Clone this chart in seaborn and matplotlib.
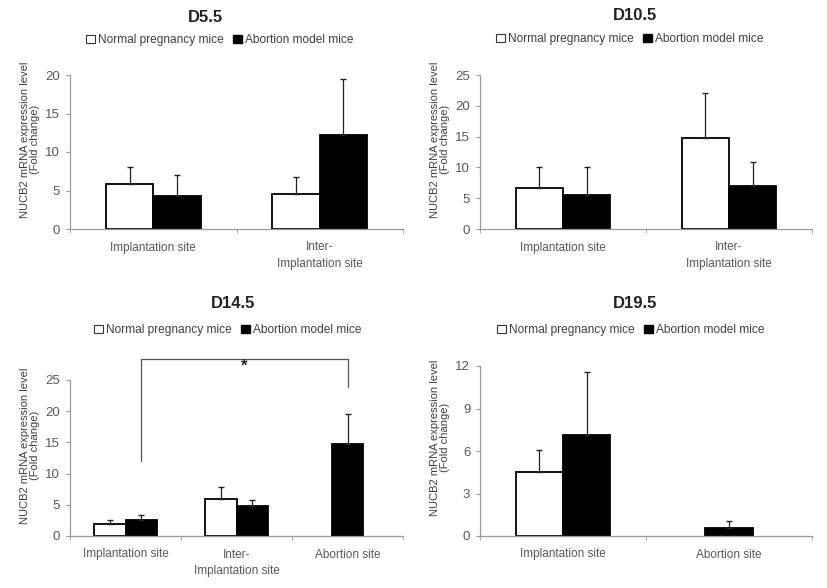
import numpy as np
import pandas as pd
import matplotlib
matplotlib.use('Agg')
import matplotlib.pyplot as plt
import seaborn as sns
from matplotlib.patches import Patch

sns.set_style('ticks')
plt.rcParams['font.family'] = ['Liberation Sans', 'DejaVu Sans']

groups = ['Normal pregnancy mice', 'Abortion model mice']

# D5.5
d5_sites = ['Implantation site', 'Inter-\nImplantation site']
d5_normal = [5.9, 4.5]
d5_normal_err = [2.2, 2.2]
d5_abortion = [4.3, 12.2]
d5_abortion_err = [2.7, 7.3]

# D10.5
d10_sites = ['Implantation site', 'Inter-\nImplantation site']
d10_normal = [6.7, 14.8]
d10_normal_err = [3.3, 7.2]
d10_abortion = [5.6, 7.0]
d10_abortion_err = [4.4, 3.8]

# D14.5
d14_sites = ['Implantation site', 'Inter-\nImplantation site', 'Abortion site']
d14_normal = [1.9, 6.0, np.nan]
d14_normal_err = [0.7, 1.8, np.nan]
d14_abortion = [2.5, 4.8, 14.8]
d14_abortion_err = [0.9, 1.0, 4.8]

# D19.5
d19_sites = ['Implantation site', 'Abortion site']
d19_normal = [4.5, np.nan]
d19_normal_err = [1.6, np.nan]
d19_abortion = [7.1, 0.6]
d19_abortion_err = [4.5, 0.45]

W, H = 827, 588
fig = plt.figure(figsize=(W / 100, H / 100), dpi=100)

grey = '#595959'


def px(x0, y0, x1, y1):
    # pixel box (left, top, right, bottom) -> figure fraction rect
    return [x0 / W, 1 - y1 / H, (x1 - x0) / W, (y1 - y0) / H]


def draw(rect, title, title_xy, leg_xy, sites, normal, normal_err,
         abortion, abortion_err, ymax, ystep):
    ax = fig.add_axes(rect)
    n = len(sites)
    df = pd.DataFrame({
        'site': sites * 2,
        'group': [groups[0]] * n + [groups[1]] * n,
        'value': normal + abortion,
    }).dropna()
    errs = {groups[0]: normal_err, groups[1]: abortion_err}
    sns.barplot(data=df, x='site', y='value', hue='group', order=sites,
                hue_order=groups,
                palette={groups[0]: 'white', groups[1]: 'black'},
                edgecolor='black', linewidth=1.3, width=0.57,
                errorbar=None, legend=False, ax=ax)
    counts = df['site'].value_counts()
    for bar in list(ax.patches):
        x = bar.get_x() + bar.get_width() / 2
        cat = int(round(x))
        # a site with only one group gets its bar centred, as in Excel
        if counts[sites[cat]] == 1:
            bar.set_x(cat - bar.get_width() / 2)
            x = cat
        h = bar.get_height()
        g = groups[0] if bar.get_facecolor()[0] > 0.5 else groups[1]
        e = errs[g][cat]
        ax.errorbar(x, h, yerr=[[0], [e]], fmt='none', ecolor='#222222',
                    elinewidth=0.9, capsize=2.2, capthick=1.0, zorder=1)

    ax.set_xlim(-0.5, n - 0.5)
    ax.set_ylim(0, ymax)
    ax.set_yticks(np.arange(0, ymax + 0.01, ystep))
    ax.set_xticks(range(n))
    ax.set_xticklabels(sites, fontsize=8.5, color=grey, linespacing=1.55)
    ax.set_xticks(np.arange(-0.5, n, 1), minor=True)
    ax.tick_params(axis='x', which='major', length=0, pad=9)
    ax.tick_params(axis='x', which='minor', length=3, color='#999999')
    ax.tick_params(axis='y', length=3, color='#999999', labelsize=9.5,
                   labelcolor=grey, pad=4)
    ax.set_xlabel('')
    ax.set_ylabel('NUCB2 mRNA expression level\n(Fold change)',
                  fontsize=8, color='#404040', linespacing=1.0)
    ax.yaxis.set_label_coords(-0.09, 0.58)
    sns.despine(ax=ax)
    for s in ['left', 'bottom']:
        ax.spines[s].set_color('#999999')
        ax.spines[s].set_linewidth(0.9)

    fig.text(title_xy[0] / W, 1 - title_xy[1] / H, title, fontsize=12,
             fontweight='bold', ha='center', va='center', color='#222222')
    handles = [Patch(facecolor='white', edgecolor='#333333', linewidth=0.8),
               Patch(facecolor='black', edgecolor='black')]
    fig.legend(handles, groups, loc='center',
               bbox_to_anchor=(leg_xy[0] / W, 1 - leg_xy[1] / H), ncol=2,
               frameon=False, fontsize=8.6, handlelength=0.7,
               handleheight=0.7, handletextpad=0.3, columnspacing=0.8,
               labelcolor='#404040')
    return ax


draw(px(70, 75, 403, 229), 'D5.5', (205, 17), (220, 40), d5_sites,
     d5_normal, d5_normal_err, d5_abortion, d5_abortion_err, 20, 5)
draw(px(480, 75, 812, 229), 'D10.5', (635, 15), (630, 39), d10_sites,
     d10_normal, d10_normal_err, d10_abortion, d10_abortion_err, 25, 5)
ax3 = draw(px(70, 380, 403, 536), 'D14.5', (233, 303), (228, 330), d14_sites,
           d14_normal, d14_normal_err, d14_abortion, d14_abortion_err, 25, 5)
draw(px(480, 366, 812, 536), 'D19.5', (635, 303), (631, 330), d19_sites,
     d19_normal, d19_normal_err, d19_abortion, d19_abortion_err, 12, 3)

# significance bracket (implantation vs abortion site, abortion model)
xl, xr = 0 + 0.57 / 4, 2
ax3.plot([xl, xl, xr, xr], [12.0, 28.4, 28.4, 23.9], color='#555555',
         lw=0.9, clip_on=False)
ax3.text((xl + xr) / 2, 26.0, '*', ha='center', va='bottom', fontsize=12,
         fontweight='bold', color='#222222')

fig.savefig('out.png', dpi=100)
